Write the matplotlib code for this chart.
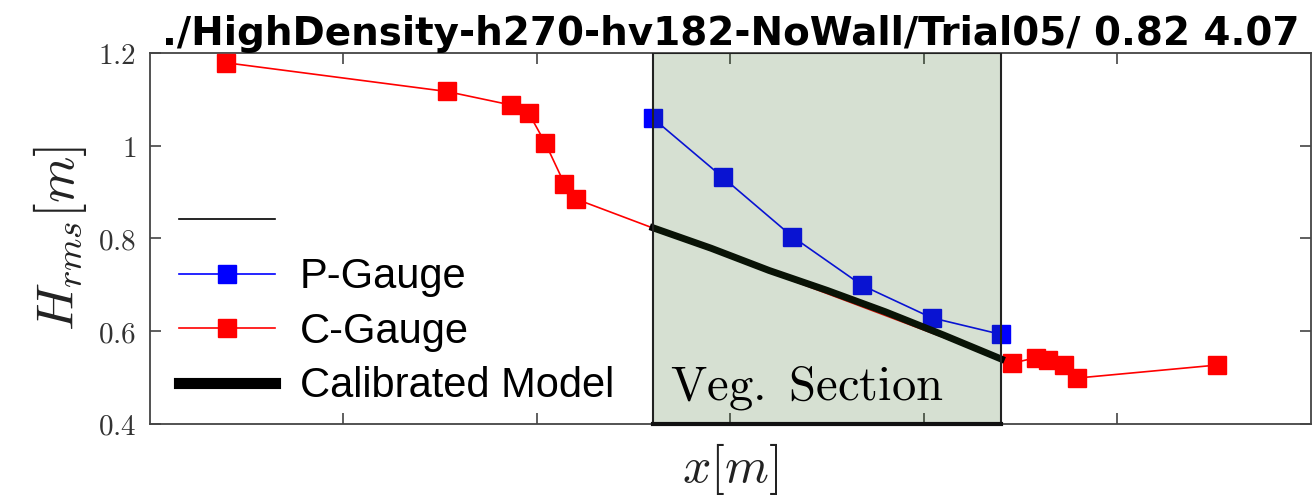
import matplotlib
matplotlib.use('Agg')
import matplotlib.pyplot as plt
from matplotlib.lines import Line2D

# C-Gauge (red) measurements
c_x = [1.96, 7.67, 9.32, 9.79, 10.22, 10.71, 11.01, 22.28, 22.89, 23.20, 23.62, 23.95, 27.56]
c_h = [1.179, 1.117, 1.088, 1.070, 1.005, 0.918, 0.885, 0.531, 0.543, 0.538, 0.527, 0.499, 0.527]

# P-Gauge (blue) measurements
p_x = [13.0, 14.8, 16.6, 18.4, 20.2, 22.0]
p_h = [1.059, 0.932, 0.804, 0.699, 0.629, 0.593]

# calibrated model over the vegetation section
m_x = [13.0, 14.5, 16.0, 17.5, 19.0, 20.5, 22.0]
m_h = [0.823, 0.779, 0.731, 0.688, 0.642, 0.592, 0.540]

veg_start, veg_end = 13.0, 22.0
title = './HighDensity-h270-hv182-NoWall/Trial05/ 0.82 4.07'

plt.rcParams['mathtext.fontset'] = 'cm'

fig = plt.figure(figsize=(13.12, 4.98), dpi=100)
ax = fig.add_axes([0.1143, 0.1486, 0.8849, 0.745])

ax.plot(p_x, p_h, '-s', color='b', lw=1.2, ms=13, mec='b', label='P-Gauge', zorder=3)
ax.plot(c_x, c_h, '-s', color='r', lw=1.2, ms=13, mec='r', label='C-Gauge', zorder=3)
ax.plot(m_x, m_h, '-', color='k', lw=5, label='Calibrated Model', zorder=4)

# vegetation section (translucent, drawn on top of the lines)
ax.axvspan(veg_start, veg_end, facecolor='#326420', alpha=0.2, edgecolor='none', zorder=5)
ax.axvspan(veg_start, veg_end, fill=False, edgecolor='#222222', lw=1.5, zorder=6)
ax.plot([veg_start, veg_end], [0.4, 0.4], color='#111111', lw=3, zorder=6, clip_on=False)
ax.text(veg_start + 0.45, 0.477, r'$\mathrm{Veg.\ Section}$', fontsize=35, va='center', ha='left', zorder=7)

ax.set_xlim(0, 30)
ax.set_ylim(0.4, 1.2)
ax.set_xticks([5, 10, 15, 20, 25])
ax.set_xticklabels([])
ax.set_yticks([0.4, 0.6, 0.8, 1.0, 1.2])
ax.set_yticklabels(['$0.4$', '$0.6$', '$0.8$', '$1$', '$1.2$'])
ax.tick_params(direction='in', length=8, width=1.2, top=True, right=True,
               labelsize=21, labelcolor='#333333', color='#444444', pad=10)
for s in ax.spines.values():
    s.set_color('#444444')
    s.set_linewidth(1.3)

ax.set_ylabel(r'$H_{rms}[m]$', fontsize=38, color='#222222', labelpad=6)
ax.set_xlabel(r'$x[m]$', fontsize=36, color='#222222', labelpad=2)
ax.set_title(title, fontsize=28, fontweight='bold', fontfamily='DejaVu Sans', pad=6)

handles, labels = ax.get_legend_handles_labels()
thin = Line2D([], [], color='k', lw=1.2)
leg = ax.legend([thin] + handles, [' '] + labels, loc='upper left', bbox_to_anchor=(0.0, 0.675),
                frameon=False, prop={'family': 'Liberation Sans', 'size': 30},
                handlelength=2.3, handletextpad=0.6, labelspacing=0.35, borderaxespad=0.3)
leg.get_lines()[3].set_linewidth(8)
leg.set_zorder(8)

fig.savefig('out.png', dpi=100)
